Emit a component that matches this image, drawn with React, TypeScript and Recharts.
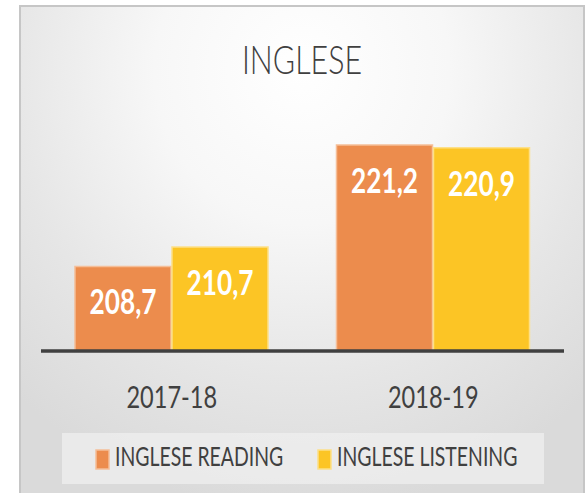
import React from 'react';
import { BarChart, Bar, XAxis, YAxis, Legend, LabelList } from 'recharts';

const title = 'INGLESE';
const categories = ['2017-18', '2018-19'];
const readingValues = [208.7, 221.2];
const listeningValues = [210.7, 220.9];
const seriesNames = ['INGLESE READING', 'INGLESE LISTENING'];
const seriesColors = ['#EC8C4D', '#FCC525'];
const seriesStrokes = ['#F5BE98', '#FDE088'];

const data = categories.map((c, i) => ({
  name: c,
  reading: readingValues[i],
  listening: listeningValues[i],
}));

const SX = 0.76;
const FONT = 'Lato, "Open Sans", sans-serif';
const TEXT = '#404040';
const fmt = (v: number) => Number(v).toFixed(1).replace('.', ',');

function CondText(props: any) {
  const { x, y, children, anchor = 'middle', sx = SX, ...rest } = props;
  return (
    <text
      transform={`translate(${x},${y}) scale(${sx},1)`}
      x={0}
      y={0}
      textAnchor={anchor}
      fontFamily={FONT}
      {...rest}
    >
      {children}
    </text>
  );
}

const BarLabel = (props: any) => {
  const { x, y, width, value } = props;
  return (
    <CondText x={x + width / 2} y={y + 48} fontSize={35} sx={0.75} fontWeight={700} fill="#FFFFFF">
      {fmt(value)}
    </CondText>
  );
};

const Tick = (props: any) => {
  const { x, y, payload } = props;
  return (
    <CondText x={x} y={y + 57} fontSize={31} fill={TEXT}>
      {payload.value}
    </CondText>
  );
};

const LegendContent = (props: any) => {
  const payload = [...(props.payload || [])].sort(
    (a: any, b: any) => seriesNames.indexOf(a.value) - seriesNames.indexOf(b.value)
  );
  const itemX = [34, 256];
  return (
    <svg width={482} height={51} style={{ display: 'block' }}>
      <rect x={0} y={0} width={482} height={51} fill="#EFEFEF" opacity={0.75} />
      {payload.map((p: any, i: number) => (
        <g key={i}>
          <rect
            x={itemX[i]}
            y={17}
            width={13}
            height={19}
            fill={seriesColors[i]}
            stroke={seriesStrokes[i]}
            strokeWidth={1.5}
          />
          <CondText x={itemX[i] + 19} y={33} anchor="start" fontSize={27} sx={0.72} fill={TEXT}>
            {p.value}
          </CondText>
        </g>
      ))}
    </svg>
  );
};

export default function App() {
  return (
    <div
      style={{
        position: 'absolute',
        left: 0,
        top: 0,
        width: 586,
        height: 493,
        overflow: 'hidden',
        background: '#FFFFFF',
      }}
    >
      <div
        style={{
          position: 'absolute',
          left: 19,
          top: 5,
          width: 562,
          height: 520,
          border: '2px solid #C6C6C6',
          background:
            'radial-gradient(ellipse 75% 85% at 50% 12%, #FFFFFF 0%, #F7F7F7 35%, #E6E6E6 70%, #DADADA 100%)',
        }}
      />
      <svg
        width={586}
        height={493}
        style={{ position: 'absolute', left: 0, top: 0, pointerEvents: 'none' }}
      >
        <CondText x={302} y={74} fontSize={40} fontWeight={300} fill={TEXT}>
          {title}
        </CondText>
      </svg>
      <div style={{ position: 'absolute', left: 0, top: 0 }}>
        <BarChart
          width={586}
          height={493}
          data={data}
          margin={{ top: 108, right: 22, bottom: 102, left: 41 }}
          barCategoryGap="13%"
          barGap={1}
        >
          <XAxis
            dataKey="name"
            height={40}
            tickLine={false}
            tickSize={0}
            tickMargin={0}
            axisLine={{ stroke: '#404040', strokeWidth: 3.5 }}
            tick={<Tick />}
            interval={0}
          />
          <YAxis hide domain={[200, 225]} allowDataOverflow />
          <Legend
            layout="horizontal"
            verticalAlign="middle"
            align="center"
            wrapperStyle={{ left: 62, top: 433, width: 482, height: 51 }}
            content={<LegendContent />}
          />
          <Bar
            dataKey="reading"
            name={seriesNames[0]}
            fill={seriesColors[0]}
            stroke={seriesStrokes[0]}
            strokeWidth={1.5}
            isAnimationActive={false}
          >
            <LabelList dataKey="reading" content={<BarLabel />} />
          </Bar>
          <Bar
            dataKey="listening"
            name={seriesNames[1]}
            fill={seriesColors[1]}
            stroke={seriesStrokes[1]}
            strokeWidth={1.5}
            isAnimationActive={false}
          >
            <LabelList dataKey="listening" content={<BarLabel />} />
          </Bar>
        </BarChart>
      </div>
    </div>
  );
}
